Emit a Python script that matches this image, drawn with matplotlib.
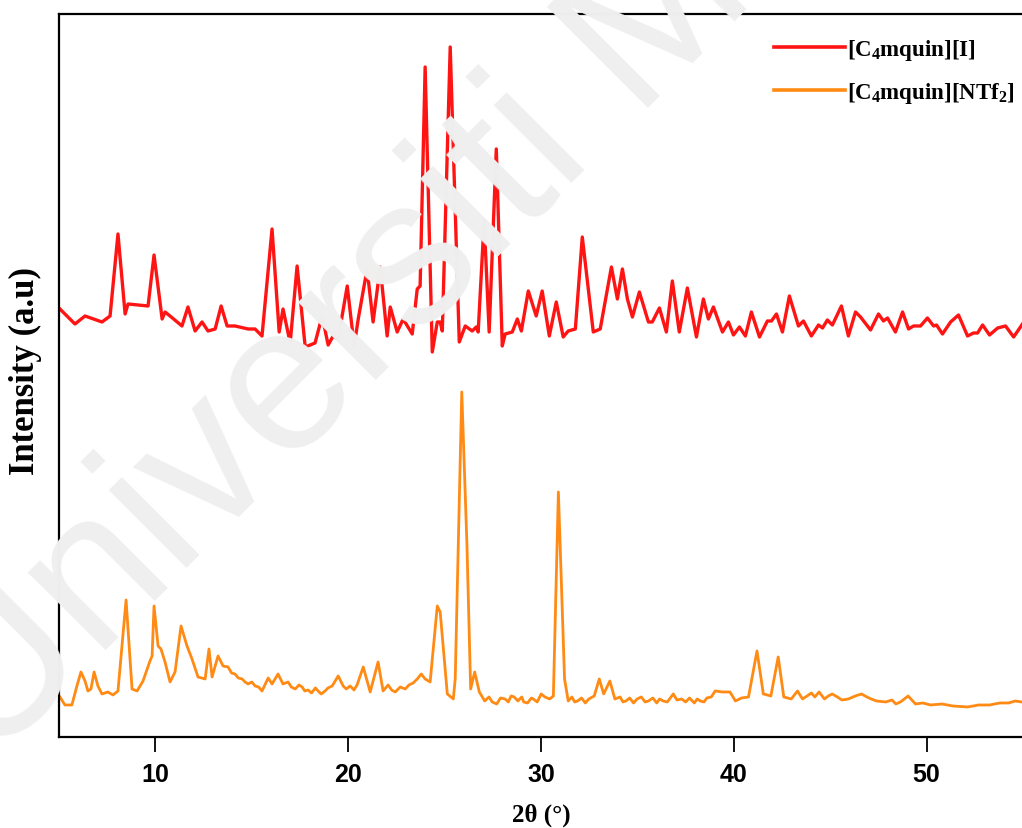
import matplotlib
matplotlib.use('Agg')
import matplotlib.pyplot as plt

# 2theta (deg) and intensity (a.u.)
theta_i = [5.05, 5.83, 6.35, 7.23, 7.65, 8.06, 8.43, 8.58, 9.62, 9.93,
           10.35, 10.50, 10.76, 11.38, 11.69, 12.06, 12.42, 12.73, 13.10, 13.41,
           13.72, 14.13, 14.81, 15.17, 15.53, 16.05, 16.42, 16.62, 16.99, 17.35,
           17.77, 18.28, 18.65, 18.96, 19.22, 19.48, 19.95, 20.31, 20.52, 20.98,
           21.29, 21.66, 22.02, 22.18, 22.54, 22.85, 23.32, 23.58, 23.73, 23.99,
           24.36, 24.62, 24.77, 24.88, 25.29, 25.76, 26.07, 26.43, 26.64, 26.74,
           27.05, 27.31, 27.68, 27.99, 28.14, 28.51, 28.77, 28.98, 29.34, 29.75,
           30.06, 30.43, 30.79, 31.15, 31.41, 31.78, 32.14, 32.71, 33.07, 33.65,
           33.96, 34.22, 34.48, 34.74, 35.10, 35.57, 35.77, 36.14, 36.50, 36.81,
           37.17, 37.59, 38.06, 38.42, 38.68, 38.94, 39.41, 39.72, 39.98, 40.29,
           40.60, 40.91, 41.33, 41.74, 41.95, 42.21, 42.52, 42.88, 43.35, 43.61,
           44.02, 44.39, 44.60, 44.85, 45.11, 45.58, 45.94, 46.31, 46.57, 47.09,
           47.50, 47.76, 47.97, 48.38, 48.75, 49.06, 49.32, 49.68, 50.04, 50.36,
           50.51, 50.82, 51.24, 51.65, 52.12, 52.43, 52.64, 52.90, 53.26, 53.68,
           54.09, 54.51, 54.97]
int_i = [428, 413, 421, 415, 421, 503, 423, 433, 431, 482,
         418, 425, 421, 411, 430, 406, 415, 406, 408, 431,
         411, 411, 408, 408, 401, 508, 405, 428, 394, 471,
         390, 394, 421, 392, 401, 398, 451, 391, 418, 468,
         415, 470, 401, 430, 405, 418, 403, 448, 451, 670,
         385, 415, 415, 406, 690, 395, 411, 406, 410, 405,
         516, 405, 588, 391, 403, 405, 418, 406, 446, 421,
         446, 401, 435, 400, 406, 408, 500, 405, 408, 470,
         438, 468, 438, 420, 445, 415, 415, 429, 405, 456,
         405, 449, 400, 438, 418, 430, 405, 415, 402, 410,
         401, 425, 400, 416, 416, 423, 405, 441, 411, 416,
         401, 412, 409, 417, 412, 431, 401, 425, 420, 407,
         423, 416, 419, 405, 425, 408, 411, 411, 419, 411,
         412, 403, 415, 422, 401, 404, 404, 412, 402, 409,
         411, 400, 413]

theta_n = [5.05, 5.31, 5.67, 5.93, 6.14, 6.35, 6.50, 6.66, 6.82, 7.02,
           7.23, 7.54, 7.80, 8.06, 8.48, 8.79, 9.05, 9.36, 9.72, 9.83,
           9.93, 10.14, 10.29, 10.50, 10.76, 11.02, 11.33, 11.64, 11.90, 12.21,
           12.58, 12.78, 12.94, 13.25, 13.51, 13.77, 13.95, 14.13, 14.30, 14.50,
           14.65, 14.81, 15.00, 15.17, 15.35, 15.53, 15.85, 16.05, 16.36, 16.62,
           16.88, 17.05, 17.25, 17.45, 17.61, 17.75, 17.92, 18.10, 18.30, 18.44,
           18.60, 18.80, 18.95, 19.17, 19.48, 19.74, 19.90, 20.10, 20.30, 20.46,
           20.78, 21.14, 21.55, 21.81, 22.07, 22.25, 22.44, 22.70, 22.96, 23.15,
           23.37, 23.58, 23.79, 23.99, 24.25, 24.62, 24.77, 25.14, 25.45, 25.55,
           25.89, 26.16, 26.35, 26.56, 26.80, 27.08, 27.30, 27.47, 27.70, 27.90,
           28.14, 28.30, 28.45, 28.61, 28.80, 29.00, 29.10, 29.30, 29.50, 29.60,
           29.80, 30.01, 30.20, 30.45, 30.64, 30.90, 31.22, 31.41, 31.60, 31.75,
           31.90, 32.10, 32.30, 32.48, 32.76, 33.02, 33.25, 33.57, 33.83, 34.10,
           34.25, 34.40, 34.60, 34.80, 34.98, 35.20, 35.40, 35.57, 35.80, 36.00,
           36.15, 36.33, 36.55, 36.86, 37.05, 37.29, 37.50, 37.70, 37.95, 38.10,
           38.26, 38.45, 38.60, 38.83, 39.03, 39.41, 39.80, 40.08, 40.40, 40.76,
           41.20, 41.53, 41.92, 42.30, 42.59, 42.98, 43.30, 43.56, 43.80, 44.02,
           44.20, 44.42, 44.70, 44.90, 45.10, 45.37, 45.60, 45.94, 46.30, 46.62,
           46.90, 47.12, 47.40, 47.88, 48.20, 48.40, 48.64, 49.04, 49.42, 49.80,
           50.20, 50.80, 51.34, 52.12, 52.70, 53.26, 53.80, 54.25, 54.60, 54.92]
int_n = [40, 32, 32, 51, 65, 56, 46, 48, 65, 51,
         43, 45, 42, 46, 137, 48, 46, 56, 76, 81,
         131, 91, 88, 75, 55, 65, 111, 91, 78, 60,
         58, 88, 60, 81, 71, 70, 64, 63, 59, 58,
         55, 53, 55, 51, 50, 46, 59, 53, 63, 53,
         55, 50, 48, 52, 50, 46, 47, 44, 49, 46,
         43, 46, 49, 51, 61, 51, 48, 51, 47, 52,
         70, 45, 75, 46, 52, 47, 45, 50, 48, 52,
         54, 58, 63, 58, 55, 131, 125, 43, 38, 58,
         345, 191, 48, 65, 45, 36, 40, 35, 33, 39,
         38, 35, 41, 40, 36, 40, 35, 34, 39, 38,
         35, 43, 40, 38, 41, 245, 58, 36, 40, 35,
         36, 39, 34, 38, 41, 58, 43, 56, 38, 40,
         35, 36, 39, 34, 38, 40, 35, 36, 39, 34,
         38, 36, 35, 43, 37, 38, 35, 39, 34, 38,
         36, 35, 39, 40, 46, 45, 45, 36, 39, 40,
         86, 43, 41, 80, 40, 38, 46, 38, 41, 44,
         40, 45, 38, 41, 43, 40, 37, 38, 41, 43,
         40, 38, 36, 35, 37, 33, 35, 41, 33, 34,
         32, 33, 31, 30, 32, 32, 34, 34, 36, 35]

xticks = [10, 20, 30, 40, 50]
labels = [r'[C$\mathbf{_4}$mquin][I]', r'[C$\mathbf{_4}$mquin][NTf$\mathbf{_2}$]']
colors = ['#ff1414', '#ff8a14']

plt.rcParams['mathtext.fontset'] = 'custom'
plt.rcParams['mathtext.bf'] = 'Liberation Serif:bold'
plt.rcParams['mathtext.rm'] = 'Liberation Serif:bold'

fig = plt.figure(figsize=(10.22, 8.29), dpi=100)
ax = fig.add_axes([0.0577, 0.1098, 0.9443, 0.8721])

# faint watermark behind the plot
fig.text(-0.01, 0.075, 'Universiti Malaya', rotation=45, rotation_mode='anchor',
         ha='left', va='baseline', fontsize=150, color='#efefef',
         family='Liberation Sans', zorder=0)
ax.patch.set_alpha(0)

ax.plot(theta_i, int_i, color=colors[0], lw=2.4, solid_joinstyle='round', label=labels[0])
ax.plot(theta_n, int_n, color=colors[1], lw=2.0, solid_joinstyle='round', label=labels[1])

ax.set_xlim(5, 55.05)
ax.set_ylim(0, 723)
ax.set_xticks(xticks)
ax.set_yticks([])
ax.tick_params(axis='x', direction='out', length=11, width=1.3, pad=7, labelsize=18)
for t in ax.get_xticklabels():
    t.set_family('Liberation Sans')
    t.set_fontweight('bold')
for s in ax.spines.values():
    s.set_linewidth(1.6)

ax.set_xlabel('2θ (°)', family='Liberation Serif', fontweight='bold', fontsize=18)
ax.xaxis.set_label_coords(0.5, -0.1065)
ax.xaxis.label.set_va('center')
ax.set_ylabel('Intensity (a.u)', family='Liberation Serif', fontweight='bold', fontsize=25)
ax.yaxis.set_label_coords(-0.0345, 0.507)
ax.yaxis.label.set_va('center')

leg = ax.legend(loc='upper left', bbox_to_anchor=(0.741, 0.968), frameon=False,
                handlelength=3.1, handletextpad=0.1, labelspacing=0.8, borderpad=0,
                borderaxespad=0,
                prop={'family': 'Liberation Serif', 'weight': 'bold', 'size': 16.5})
for h in leg.get_lines():
    h.set_linewidth(2.6)

fig.savefig('out.png', dpi=100)
